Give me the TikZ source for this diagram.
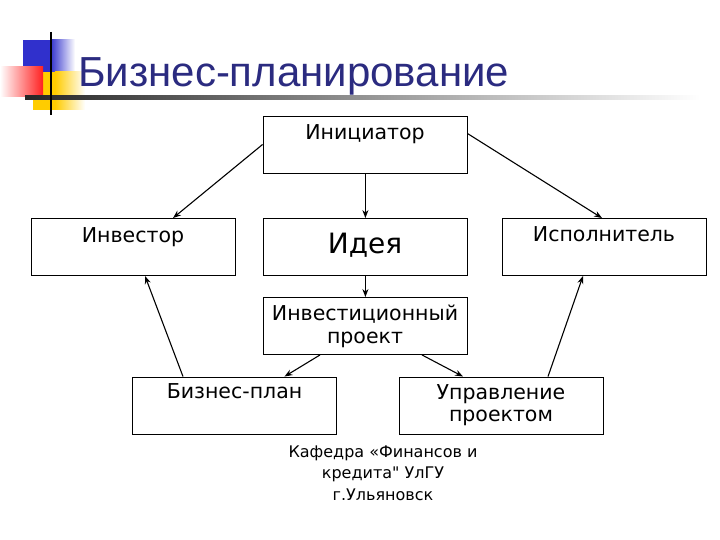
\documentclass[tikz,border=0pt]{standalone}
\usepackage{fontspec}
\setmainfont{DejaVu Sans}
\newfontfamily\titlefont{Liberation Sans}
\newfontfamily\footfont{DejaVu Sans}[Ligatures=TeXOff]
\usetikzlibrary{arrows.meta,calc}
\definecolor{titleblue}{HTML}{2B2B80}
\definecolor{sqblue}{HTML}{3030CC}
\definecolor{sqyellow}{HTML}{FFCC00}
\definecolor{sqred}{HTML}{FF2020}
\tikzset{
  box/.style={draw=black, line width=0.9pt, minimum width=204pt, minimum height=57pt, inner sep=0pt},
  lbl/.style={anchor=base, font=\fontsize{20.5}{23}\selectfont, inner sep=0pt},
  foot/.style={anchor=base, font=\footfont\fontsize{16}{19}\selectfont, inner sep=0pt},
  arr/.style={line width=1.1pt, -{Stealth[length=8pt,width=6pt]}},
}
\begin{document}
\begin{tikzpicture}[x=1pt,y=-1pt]
\useasboundingbox (0,0) rectangle (720,540);
% decoration
\fill[sqblue] (23,40) rectangle (50,72);
\shade[left color=sqblue, right color=white] (50,40) rectangle (75,72);
\fill[sqyellow] (33,72) rectangle (55,110);
\shade[left color=sqyellow, right color=white] (55,72) rectangle (85,110);
\shade[left color=white, right color=sqred] (0,67) rectangle (43,97);
\shade[left color=black!85, middle color=black!60, right color=white] (25,96) rectangle (700,100);
\draw[line width=2.5pt] (51,32) -- (51,115);
\node[anchor=base west, inner sep=0pt, text=titleblue, font=\titlefont\fontsize{42}{46}\selectfont] (title) at (78,87) {Бизнес-планирование};
% boxes
\node[box] (ini) at (365,144.5) {};
\node[box] (inv) at (133,247) {};
\node[box] (idea) at (365,247) {};
\node[box] (isp) at (604,247) {};
\node[box] (proj) at (365,326) {};
\node[box] (bp) at (234.5,405.5) {};
\node[box] (upr) at (501,405.5) {};
% labels
\node[lbl] (tini) at ($(ini.north)+(0,24)$) {Инициатор};
\node[lbl] (tinv) at ($(inv.north)+(0,24)$) {Инвестор};
\node[lbl, font=\fontsize{28}{32}\selectfont] (tidea) at ($(idea.north)+(0,35)$) {Идея};
\node[lbl] (tisp) at ($(isp.north)+(0,23)$) {Исполнитель};
\node[lbl] (tproj1) at ($(proj.north)+(0,23)$) {Инвестиционный};
\node[lbl] (tproj2) at ($(proj.north)+(0,46)$) {проект};
\node[lbl] (tbp) at ($(bp.north)+(0,22)$) {Бизнес-план};
\node[lbl] (tupr1) at ($(upr.north)+(0,23)$) {Управление};
\node[lbl] (tupr2) at ($(upr.north)+(0,45)$) {проектом};
% footer
\node[foot] (f1) at (383,457) {Кафедра «Финансов и};
\node[foot] (f2) at (383,478) {кредита" УлГУ};
\node[foot] (f3) at (383,500) {г.Ульяновск};
% arrows
\draw[arr] (ini.west) -- ($(inv.north)+(40,0)$);
\draw[arr] ($(ini.east)+(0,-11)$) -- ($(isp.north)+(-2,0)$);
\draw[arr] ($(ini.south)+(0.4,0)$) -- ($(idea.north)+(0.4,0)$);
\draw[arr] ($(idea.south)+(0.4,0)$) -- ($(proj.north)+(0.4,0)$);
\draw[arr] ($(proj.south)+(-45,0)$) -- ($(bp.north)+(50,0)$);
\draw[arr] ($(proj.south)+(57,0)$) -- ($(upr.north)+(-38,0)$);
\draw[arr] ($(bp.north)+(-51.5,0)$) -- ($(inv.south)+(12,0)$);
\draw[arr] ($(upr.north)+(47,0)$) -- ($(isp.south)+(-21,0)$);
\end{tikzpicture}
\end{document}
